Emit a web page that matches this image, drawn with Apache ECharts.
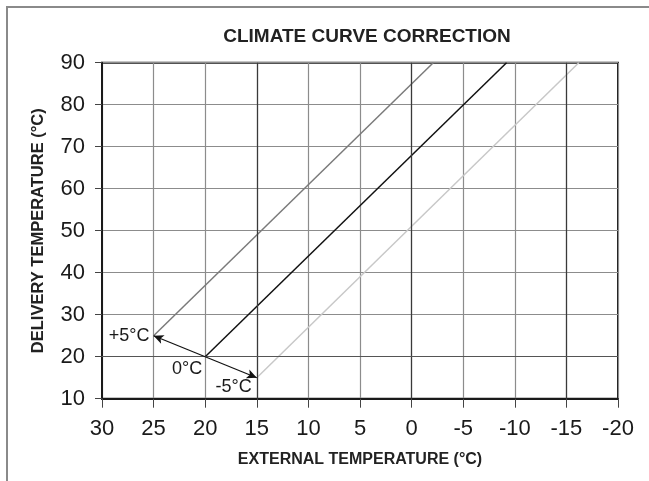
<!DOCTYPE html>
<html>
<head>
<meta charset="utf-8">
<script src="https://cdn.jsdelivr.net/npm/echarts@6/dist/echarts.min.js"></script>
<style>html,body{margin:0;padding:0;background:#fff}#c{width:649px;height:481px}</style>
</head>
<body>
<div id="c"></div>
<script>
const titleText = 'CLIMATE CURVE CORRECTION';
const xName = 'EXTERNAL TEMPERATURE (°C)';
const yName = 'DELIVERY TEMPERATURE (°C)';
const xMin = -20, xMax = 30, xStep = 5;
const yMin = 10, yMax = 90, yStep = 10;
const curveNames = ['+5°C', '0°C', '-5°C'];
const curvePlus5 = [[25, 25], [-2.1, 90]];
const curveZero = [[20, 20], [-9.2, 90]];
const curveMinus5 = [[15, 15], [-16.2, 90]];
const arrowToPlus5 = [[20, 20], [25, 25]];
const arrowToMinus5 = [[20, 20], [15, 15]];
const darkVerticals = [15, 0, -15];
const darkHorizontals = [20];

const font = 'Liberation Sans, Arial, sans-serif';
const chart = echarts.init(document.getElementById('c'), null, {renderer: 'canvas'});

function startLabel(pos, dist, off) {
  return {show: true, position: pos, distance: dist, offset: off,
    formatter: p => p.seriesName, color: '#1a1a1a', fontSize: 18, fontFamily: font};
}
function curve(name, pts, color, lbl) {
  return {
    type: 'line', name: name, symbol: 'none', silent: true, animation: false,
    lineStyle: {color: color, width: 1.5},
    data: pts.map((p, i) => i === 0 ? {value: p, symbol: 'circle', symbolSize: 0.1, label: lbl} : {value: p}),
    z: 3
  };
}

chart.setOption({
  animation: false,
  backgroundColor: '#fff',
  title: {text: titleText, left: 362, top: 22, textAlign: 'center',
    textStyle: {fontSize: 19, fontWeight: 'bold', color: '#222', fontFamily: font}},
  grid: {left: 102, right: 31, top: 62.7, bottom: 82.3, show: true, borderColor: '#1a1a1a', borderWidth: 2, backgroundColor: 'transparent'},
  xAxis: {
    type: 'value', inverse: true, min: xMin, max: xMax, interval: xStep,
    name: xName, nameLocation: 'middle', nameGap: 53,
    nameTextStyle: {fontSize: 16, fontWeight: 'bold', color: '#222', fontFamily: font},
    axisLine: {show: true, onZero: false, lineStyle: {color: '#1a1a1a', width: 2}},
    axisTick: {show: true, length: 9, inside: false, lineStyle: {color: '#444', width: 1}},
    axisLabel: {fontSize: 22, color: '#1a1a1a', margin: 19, fontFamily: font},
    splitLine: {show: true, lineStyle: {color: '#8c8c8c', width: 1.2}}
  },
  yAxis: {
    type: 'value', min: yMin, max: yMax, interval: yStep,
    name: yName, nameLocation: 'middle', nameGap: 55, nameRotate: 90,
    nameTextStyle: {fontSize: 16.5, fontWeight: 'bold', color: '#222', fontFamily: font},
    axisLine: {show: true, onZero: false, lineStyle: {color: '#1a1a1a', width: 2}},
    axisTick: {show: true, length: 7, lineStyle: {color: '#444', width: 1}},
    axisLabel: {fontSize: 22, color: '#1a1a1a', margin: 17, fontFamily: font},
    splitLine: {show: true, lineStyle: {color: '#8c8c8c', width: 1.2}}
  },
  graphic: [{type: 'rect', shape: {x: 7, y: 7, width: 700, height: 520},
    style: {fill: 'none', stroke: '#8a8a8a', lineWidth: 2}, silent: true, z: -1}],
  series: [
    Object.assign(curve(curveNames[0], curvePlus5, '#7a7a7a', startLabel('left', 4, [0, 0])), {
      markLine: {silent: true, animation: false, symbol: 'none', label: {show: false},
        lineStyle: {color: '#3a3a3a', width: 1.2, type: 'solid'},
        data: darkVerticals.map(v => ({xAxis: v})).concat(darkHorizontals.map(v => ({yAxis: v, lineStyle: {color: '#555'}})))}
    }),
    Object.assign(curve(curveNames[1], curveZero, '#111', startLabel('left', 3, [0, 12])), {
      markLine: {silent: true, animation: false, symbol: ['none', 'arrow'], symbolSize: [7, 10],
        label: {show: false}, lineStyle: {color: '#111', width: 1.2, type: 'solid'},
        data: [
          [{coord: arrowToPlus5[0]}, {coord: arrowToPlus5[1]}],
          [{coord: arrowToMinus5[0]}, {coord: arrowToMinus5[1]}]
        ]}
    }),
    curve(curveNames[2], curveMinus5, '#c8c8c8', startLabel('left', 5, [0, 9]))
  ]
});
</script>
</body>
</html>
